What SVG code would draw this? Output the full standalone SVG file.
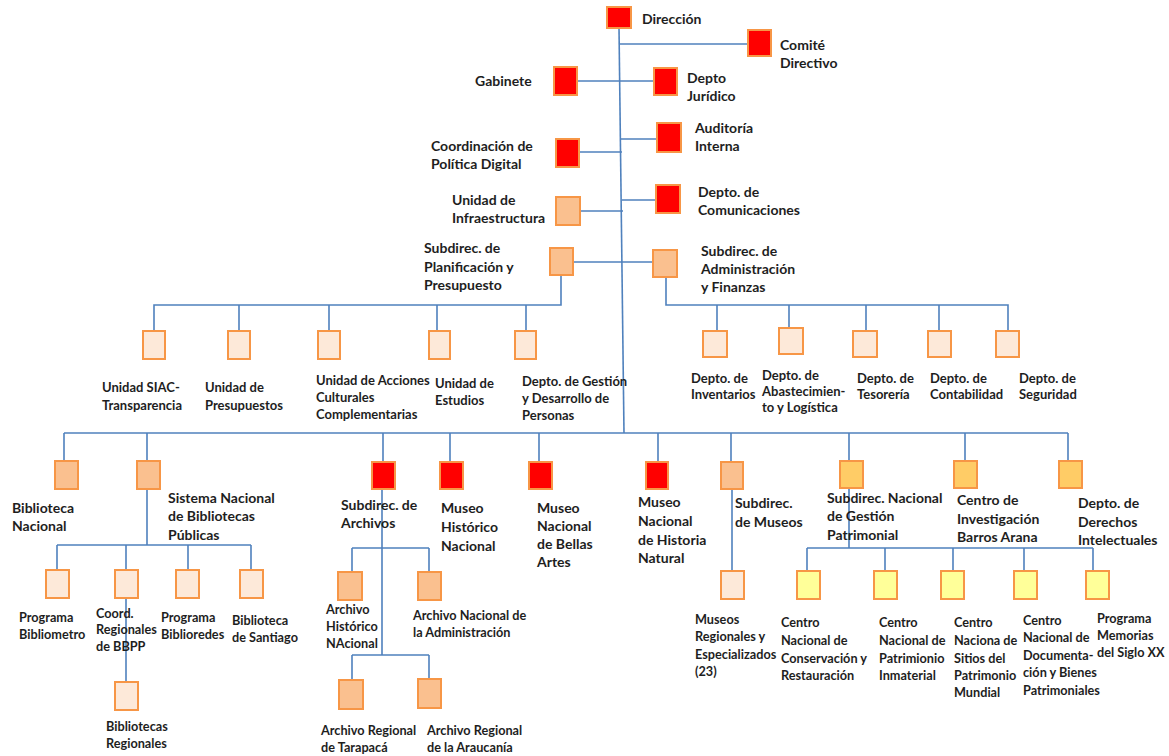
<svg xmlns="http://www.w3.org/2000/svg" width="1169" height="756" viewBox="0 0 1169 756">
<style>
.bg{fill:#ffffff}
.c{stroke:#4F81BD;stroke-width:1.6;fill:none}
rect.n{stroke:#F79646;stroke-width:2}
.r{fill:#FF0000}
.o{fill:#FAC08F}
.p{fill:#FDE9D9}
.g{fill:#FFCC66}
.y{fill:#FFFF99}
text{font-family:Lato,"Liberation Sans",sans-serif;font-weight:700;fill:#1e1e1e;font-size:14px}
text.s{font-size:12.7px}
text.m{font-size:13px}
</style>
<rect class="bg" x="0" y="0" width="1169" height="756"/>
<g id="connectors">
<path class="c" d="M619,28 L624,433"/>
<path class="c" d="M620,44 H748"/>
<path class="c" d="M577,81 H654"/>
<path class="c" d="M621,139 H657"/>
<path class="c" d="M579,152 H622"/>
<path class="c" d="M622,200 H656"/>
<path class="c" d="M580,211 H623"/>
<path class="c" d="M573,262 H653"/>
<path class="c" d="M561,275 V305 H154 V331"/>
<path class="c" d="M239,305 V331 M329,305 V331 M437,305 V331 M526,305 V331"/>
<path class="c" d="M666,277 V305 H1008 V331"/>
<path class="c" d="M717,305 V331 M789,305 V328 M866,305 V331 M939,305 V331"/>
<path class="c" d="M64,433 H1068"/>
<path class="c" d="M64,433 V461 M147,433 V461 M383,433 V462 M450,433 V462 M539,433 V462 M658,433 V462 M731,433 V462 M849,433 V461 M965,433 V461 M1068,433 V461"/>
<path class="c" d="M147,489 V545 M57,545 H251 M57,545 V570 M126,545 V570 M188,545 V570 M251,545 V570"/>
<path class="c" d="M126,598 V682"/>
<path class="c" d="M382,476 V655 M352,548 H429 M352,548 V572 M429,548 V572 M352,655 H429 M352,655 V680 M429,655 V680"/>
<path class="c" d="M732,476 V571"/>
<path class="c" d="M849,476 V548 M807,548 H1093 M807,548 V571 M885,548 V571 M953,548 V571 M1024,548 V571 M1093,548 V571"/>
</g>
<g id="direccion"><rect class="n r" x="607" y="7" width="24" height="21"/><text x="642" y="24">Dirección</text></g>
<g id="comite"><rect class="n r" x="748" y="30" width="23" height="26"/><text x="780" y="50">Comité</text><text x="780" y="68">Directivo</text></g>
<g id="gabinete"><rect class="n r" x="554" y="67" width="23" height="28"/><text x="475" y="86">Gabinete</text></g>
<g id="juridico"><rect class="n r" x="654" y="68" width="23" height="27"/><text x="687" y="83">Depto</text><text x="687" y="101">Jurídico</text></g>
<g id="auditoria"><rect class="n r" x="657" y="123" width="24" height="29"/><text x="695" y="133">Auditoría</text><text x="695" y="151">Interna</text></g>
<g id="coordinacion"><rect class="n r" x="556" y="139" width="23" height="28"/><text x="431" y="151">Coordinación de</text><text x="431" y="169">Política Digital</text></g>
<g id="comunicaciones"><rect class="n r" x="656" y="185" width="24" height="28"/><text x="698" y="197">Depto. de</text><text x="698" y="215">Comunicaciones</text></g>
<g id="infraestructura"><rect class="n o" x="556" y="197" width="24" height="28"/><text x="452" y="205">Unidad de</text><text x="452" y="223">Infraestructura</text></g>
<g id="planificacion"><rect class="n o" x="550" y="248" width="23" height="27"/><text x="424" y="253">Subdirec. de</text><text x="424" y="272">Planificación y</text><text x="424" y="290">Presupuesto</text></g>
<g id="administracion"><rect class="n o" x="653" y="250" width="24" height="27"/><text x="701" y="256">Subdirec. de</text><text x="701" y="274">Administración</text><text x="701" y="292">y Finanzas</text></g>
<g id="siac"><rect class="n p" x="143" y="331" width="22" height="28"/><text class="m" x="102" y="392">Unidad SIAC-</text><text class="m" x="102" y="410">Transparencia</text></g>
<g id="presupuestos"><rect class="n p" x="228" y="331" width="22" height="28"/><text class="m" x="205" y="392">Unidad de</text><text class="m" x="205" y="410">Presupuestos</text></g>
<g id="acciones"><rect class="n p" x="318" y="331" width="22" height="28"/><text class="m" x="316" y="385">Unidad de Acciones</text><text class="m" x="316" y="402">Culturales</text><text class="m" x="316" y="419">Complementarias</text></g>
<g id="estudios"><rect class="n p" x="429" y="331" width="21" height="28"/><text class="m" x="435" y="388">Unidad de</text><text class="m" x="435" y="405">Estudios</text></g>
<g id="personas"><rect class="n p" x="515" y="331" width="21" height="28"/><text class="m" x="522" y="386">Depto. de Gestión</text><text class="m" x="522" y="403">y Desarrollo de</text><text class="m" x="522" y="420">Personas</text></g>
<g id="inventarios"><rect class="n p" x="703" y="331" width="24" height="26"/><text class="m" x="691" y="383">Depto. de</text><text class="m" x="691" y="399">Inventarios</text></g>
<g id="abastecimiento"><rect class="n p" x="779" y="328" width="24" height="26"/><text class="m" x="762" y="380">Depto. de</text><text class="m" x="762" y="396">Abastecimien-</text><text class="m" x="762" y="412">to y Logística</text></g>
<g id="tesoreria"><rect class="n p" x="853" y="331" width="24" height="26"/><text class="m" x="857" y="383">Depto. de</text><text class="m" x="857" y="399">Tesorería</text></g>
<g id="contabilidad"><rect class="n p" x="928" y="331" width="23" height="26"/><text class="m" x="930" y="383">Depto. de</text><text class="m" x="930" y="399">Contabilidad</text></g>
<g id="seguridad"><rect class="n p" x="996" y="331" width="23" height="26"/><text class="m" x="1019" y="383">Depto. de</text><text class="m" x="1019" y="399">Seguridad</text></g>
<g id="biblioteca-nacional"><rect class="n o" x="55" y="461" width="23" height="28"/><text x="12" y="513">Biblioteca</text><text x="12" y="531">Nacional</text></g>
<g id="sistema-nacional"><rect class="n o" x="137" y="461" width="23" height="28"/><text x="168" y="503">Sistema Nacional</text><text x="168" y="521">de Bibliotecas</text><text x="168" y="540">Públicas</text></g>
<g id="archivos"><rect class="n r" x="372" y="462" width="23" height="27"/><text x="341" y="510">Subdirec. de</text><text x="341" y="528">Archivos</text></g>
<g id="museo-historico"><rect class="n r" x="440" y="462" width="23" height="27"/><text x="441" y="513">Museo</text><text x="441" y="532">Histórico</text><text x="441" y="551">Nacional</text></g>
<g id="museo-bellas-artes"><rect class="n r" x="529" y="462" width="23" height="27"/><text x="537" y="513">Museo</text><text x="537" y="531">Nacional</text><text x="537" y="549">de Bellas</text><text x="537" y="567">Artes</text></g>
<g id="museo-historia-natural"><rect class="n r" x="646" y="462" width="22" height="27"/><text x="638" y="507">Museo</text><text x="638" y="526">Nacional</text><text x="638" y="545">de Historia</text><text x="638" y="563">Natural</text></g>
<g id="subdirec-museos"><rect class="n o" x="721" y="462" width="22" height="27"/><text x="735" y="508">Subdirec.</text><text x="735" y="527">de Museos</text></g>
<g id="gestion-patrimonial"><rect class="n g" x="840" y="461" width="23" height="27"/><text x="827" y="503">Subdirec. Nacional</text><text x="827" y="521">de Gestión</text><text x="827" y="540">Patrimonial</text></g>
<g id="barros-arana"><rect class="n g" x="954" y="461" width="23" height="27"/><text x="957" y="505">Centro de</text><text x="957" y="524">Investigación</text><text x="957" y="542">Barros Arana</text></g>
<g id="derechos"><rect class="n g" x="1059" y="461" width="23" height="27"/><text x="1078" y="508">Depto. de</text><text x="1078" y="527">Derechos</text><text x="1078" y="545">Intelectuales</text></g>
<g id="bibliometro"><rect class="n p" x="46" y="570" width="23" height="28"/><text class="s" x="19" y="622">Programa</text><text class="s" x="19" y="639">Bibliometro</text></g>
<g id="coord-regionales"><rect class="n p" x="115" y="570" width="23" height="28"/><text class="s" x="96" y="618">Coord.</text><text class="s" x="96" y="634">Regionales</text><text class="s" x="96" y="651">de BBPP</text></g>
<g id="biblioredes"><rect class="n p" x="176" y="570" width="23" height="28"/><text class="s" x="161" y="622">Programa</text><text class="s" x="161" y="639">Biblioredes</text></g>
<g id="biblioteca-santiago"><rect class="n p" x="240" y="570" width="23" height="28"/><text class="s" x="232" y="625">Biblioteca</text><text class="s" x="232" y="642">de Santiago</text></g>
<g id="bibliotecas-regionales"><rect class="n p" x="115" y="682" width="23" height="28"/><text class="s" x="106" y="731">Bibliotecas</text><text class="s" x="106" y="748">Regionales</text></g>
<g id="archivo-historico"><rect class="n o" x="338" y="572" width="24" height="28"/><text class="s" x="326" y="614">Archivo</text><text class="s" x="326" y="631">Histórico</text><text class="s" x="326" y="648">NAcional</text></g>
<g id="archivo-administracion"><rect class="n o" x="418" y="572" width="23" height="28"/><text class="s" x="413" y="620">Archivo Nacional de</text><text class="s" x="413" y="637">la Administración</text></g>
<g id="archivo-tarapaca"><rect class="n o" x="339" y="680" width="24" height="29"/><text class="s" x="321" y="735">Archivo Regional</text><text class="s" x="321" y="752">de Tarapacá</text></g>
<g id="archivo-araucania"><rect class="n o" x="418" y="679" width="23" height="29"/><text class="s" x="427" y="735">Archivo Regional</text><text class="s" x="427" y="752">de la Araucanía</text></g>
<g id="museos-regionales"><rect class="n p" x="721" y="571" width="23" height="28"/><text class="s" x="695" y="624">Museos</text><text class="s" x="695" y="641">Regionales y</text><text class="s" x="695" y="659">Especializados</text><text class="s" x="695" y="676">(23)</text></g>
<g id="conservacion"><rect class="n y" x="797" y="571" width="23" height="28"/><text class="s" x="781" y="627">Centro</text><text class="s" x="781" y="645">Nacional de</text><text class="s" x="781" y="663">Conservación y</text><text class="s" x="781" y="680">Restauración</text></g>
<g id="inmaterial"><rect class="n y" x="874" y="571" width="23" height="28"/><text class="s" x="879" y="627">Centro</text><text class="s" x="879" y="645">Nacional de</text><text class="s" x="879" y="663">Patrimionio</text><text class="s" x="879" y="680">Inmaterial</text></g>
<g id="sitios"><rect class="n y" x="941" y="571" width="23" height="28"/><text class="s" x="954" y="627">Centro</text><text class="s" x="954" y="645">Naciona de</text><text class="s" x="954" y="663">Sitios del</text><text class="s" x="954" y="680">Patrimonio</text><text class="s" x="954" y="697">Mundial</text></g>
<g id="documentacion"><rect class="n y" x="1014" y="571" width="23" height="28"/><text class="s" x="1023" y="625">Centro</text><text class="s" x="1023" y="642">Nacional de</text><text class="s" x="1023" y="660">Documenta-</text><text class="s" x="1023" y="677">ción y Bienes</text><text class="s" x="1023" y="695">Patrimoniales</text></g>
<g id="memorias"><rect class="n y" x="1086" y="571" width="23" height="28"/><text class="s" x="1097" y="623">Programa</text><text class="s" x="1097" y="640">Memorias</text><text class="s" x="1097" y="657">del Siglo XX</text></g>
</svg>
